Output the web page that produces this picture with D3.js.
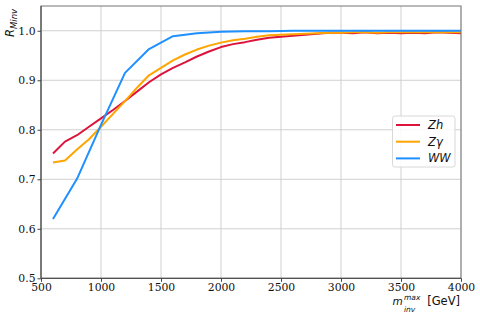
<!DOCTYPE html>
<html><head><meta charset="utf-8">
<script src="https://cdn.jsdelivr.net/npm/d3@7"></script>
<style>body{margin:0;background:#fff}svg{display:block}</style>
</head><body>
<svg id="c" width="480" height="315"></svg>
<script>
const zhX = [600,700,800,900,1000,1100,1200,1300,1400,1500,1600,1700,1800,1900,2000,2100,2200,2300,2400,2500,2600,2700,2800,2900,3000,3100,3200,3300,3400,3500,3600,3700,3800,3900,4000];
const zhY = [0.752,0.776,0.789,0.806,0.823,0.840,0.858,0.877,0.896,0.912,0.925,0.936,0.948,0.958,0.967,0.973,0.977,0.982,0.986,0.988,0.990,0.992,0.994,0.996,0.996,0.995,0.997,0.995,0.996,0.995,0.996,0.995,0.997,0.996,0.995];
const zgX = zhX;
const zgY = [0.734,0.738,0.760,0.781,0.806,0.832,0.858,0.885,0.910,0.925,0.940,0.952,0.962,0.970,0.976,0.981,0.984,0.988,0.991,0.992,0.993,0.994,0.995,0.996,0.996,0.997,0.997,0.996,0.997,0.997,0.997,0.997,0.997,0.997,0.997];
const wwX = [600,800,1000,1200,1400,1600,1800,2000,2200,2400,2600,2800,3000,3200,3400,3600,3800,4000];
const wwY = [0.620,0.701,0.810,0.915,0.963,0.989,0.995,0.998,0.999,0.999,1.0,1.0,1.0,1.0,1.0,1.0,1.0,1.0];
const xTicks = [500,1000,1500,2000,2500,3000,3500,4000];
const yTicks = [0.5,0.6,0.7,0.8,0.9,1.0];
const seriesNames = ["Zh","Zγ","WW"];
const seriesColors = ["#dc143c","#ffa500","#1e90ff"];

const svg = d3.select("#c");
const L=41,R=461,T=6,B=278.3;
const x = d3.scaleLinear().domain([500,4000]).range([L,R]);
const y = d3.scaleLinear().domain([0.5,1.05]).range([B,T]);
const SERIF = "'DejaVu Serif', 'Liberation Serif', serif";
const SANS = "'DejaVu Sans', sans-serif";

// grid
const g = svg.append("g");
g.selectAll(".gx").data(xTicks).join("line").attr("x1",d=>x(d)).attr("x2",d=>x(d)).attr("y1",T).attr("y2",B).attr("stroke","#d0d0d0").attr("stroke-width",1);
g.selectAll(".gy").data(yTicks).join("line").attr("y1",d=>y(d)).attr("y2",d=>y(d)).attr("x1",L).attr("x2",R).attr("stroke","#d0d0d0").attr("stroke-width",1);

// lines
const series = [[zhX,zhY],[zgX,zgY],[wwX,wwY]];
const line = d3.line().x(d=>x(d[0])).y(d=>y(d[1]));
series.forEach((s,i)=>{
  const pts = s[0].map((v,j)=>[v,s[1][j]]);
  svg.append("path").attr("d",line(pts)).attr("fill","none").attr("stroke",seriesColors[i]).attr("stroke-width",2).attr("stroke-linejoin","round");
});

// frame
svg.append("rect").attr("x",L).attr("y",T).attr("width",R-L).attr("height",B-T).attr("fill","none").attr("stroke","#777").attr("stroke-width",1);
svg.append("line").attr("x1",L).attr("x2",L).attr("y1",T).attr("y2",B).attr("stroke","#444");
svg.append("line").attr("x1",L).attr("x2",R).attr("y1",B).attr("y2",B).attr("stroke","#444");

// axes
const xa = svg.append("g").attr("transform",`translate(0,${B})`).call(d3.axisBottom(x).tickValues(xTicks).tickFormat(d3.format("d")).tickSize(3.5).tickPadding(2));
const ya = svg.append("g").attr("transform",`translate(${L},0)`).call(d3.axisLeft(y).tickValues(yTicks).tickFormat(d3.format(".1f")).tickSize(3.5).tickPadding(2));
[xa,ya].forEach(a=>{
  a.select(".domain").remove();
  a.selectAll("line").attr("stroke","#444");
  a.selectAll("text").attr("font-family",SERIF).attr("font-size",10.8).attr("fill","#111");
});

// x label
const xl = svg.append("g").attr("fill","#111");
xl.append("text").attr("x",392.5).attr("y",305).attr("font-family",SANS).attr("font-style","italic").attr("font-size",10.5).text("m");
xl.append("text").attr("x",404).attr("y",300).attr("font-family",SANS).attr("font-style","italic").attr("font-size",7.5).text("max");
xl.append("text").attr("x",404).attr("y",311.5).attr("font-family",SANS).attr("font-style","italic").attr("font-size",7.5).text("inv");
xl.append("text").attr("x",460).attr("y",305).attr("text-anchor","end").attr("font-family",SANS).attr("font-size",11.5).text("[GeV]");

// y label
svg.append("text").attr("transform","translate(14,37) rotate(-90)").attr("fill","#111")
  .call(t=>{
    t.append("tspan").attr("font-family",SANS).attr("font-style","italic").attr("font-size",11.5).text("R");
    t.append("tspan").attr("font-family",SANS).attr("font-style","italic").attr("font-size",8.5).attr("dy",2.5).text("Minv");
  });

// legend
const lg = svg.append("g");
lg.append("rect").attr("x",392.5).attr("y",116).attr("width",62.5).attr("height",51).attr("rx",2.5).attr("fill","#fff").attr("fill-opacity",0.85).attr("stroke","#d8d8d8");
seriesNames.forEach((n,i)=>{
  const yy = 125+i*16.7;
  lg.append("line").attr("x1",396).attr("x2",420).attr("y1",yy).attr("y2",yy).attr("stroke",seriesColors[i]).attr("stroke-width",2);
  lg.append("text").attr("x",428).attr("y",yy+4).attr("font-family",SANS).attr("font-style","italic").attr("font-size",11.5).attr("fill","#111").text(n);
});
</script>
</body></html>
